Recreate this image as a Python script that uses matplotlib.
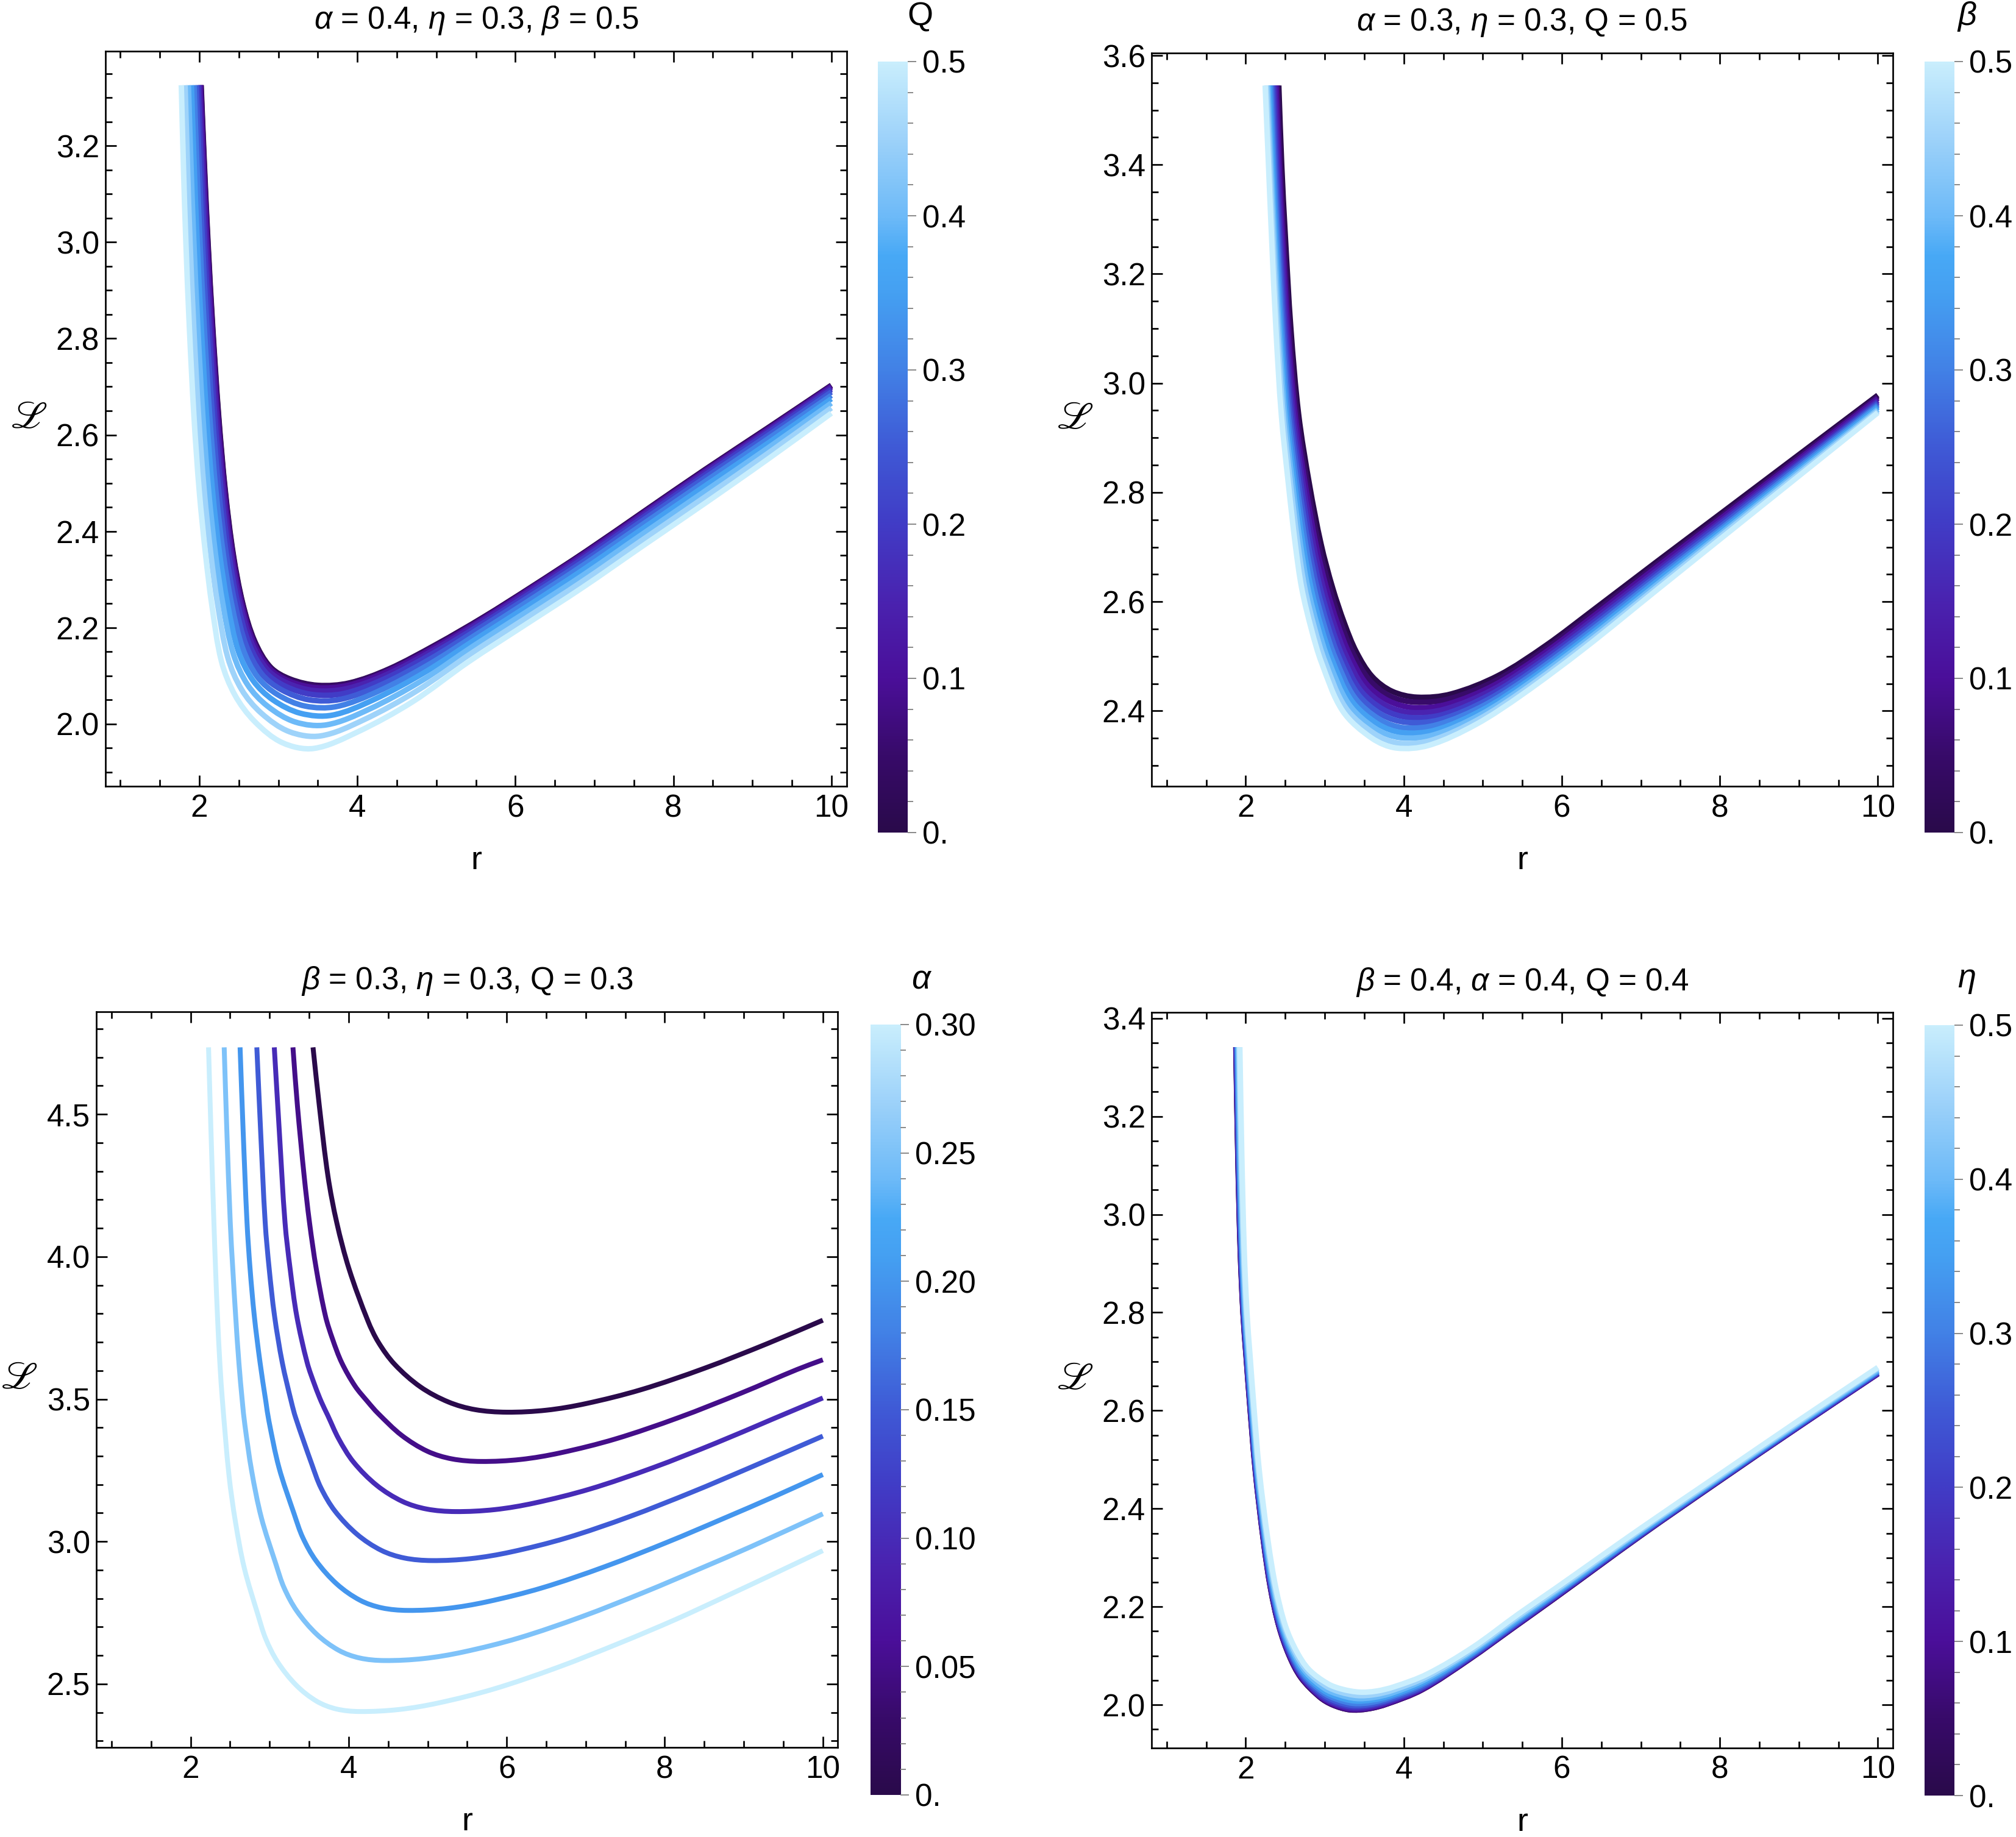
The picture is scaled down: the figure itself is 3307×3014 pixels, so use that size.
import numpy as np
import matplotlib
matplotlib.use("Agg")
import matplotlib.pyplot as plt
from matplotlib.colors import LinearSegmentedColormap
from matplotlib.ticker import FixedLocator, FixedFormatter, MultipleLocator, FuncFormatter
from matplotlib.path import Path
from matplotlib.patches import PathPatch

plt.rcParams['font.family'] = ['Liberation Sans', 'DejaVu Sans']
plt.rcParams['mathtext.fontset'] = 'custom'
plt.rcParams['mathtext.rm'] = 'Liberation Sans'
plt.rcParams['mathtext.it'] = 'Liberation Sans:italic'
plt.rcParams['mathtext.bf'] = 'Liberation Sans:bold'

# ---------------- data ----------------
# Panel 1: alpha=0.4, eta=0.3, beta=0.5 ; curves for Q
P1_Q = [0.0, 0.05, 0.1, 0.15, 0.2, 0.25, 0.3, 0.35, 0.4, 0.45, 0.5]
P1_R = [
    [2.023, 2.065, 2.110, 2.170, 2.245, 2.330, 2.430, 2.550, 2.700, 2.900, 3.150, 3.500, 3.900, 4.400, 5.000, 5.600, 6.200, 6.900, 7.600, 8.400, 9.200, 10.0],
    [2.020, 2.062, 2.107, 2.167, 2.242, 2.327, 2.426, 2.546, 2.696, 2.896, 3.146, 3.496, 3.896, 4.396, 4.997, 5.598, 6.199, 6.900, 7.600, 8.400, 9.200, 10.0],
    [2.013, 2.054, 2.099, 2.158, 2.232, 2.317, 2.416, 2.534, 2.683, 2.882, 3.132, 3.482, 3.882, 4.384, 4.988, 5.592, 6.196, 6.898, 7.600, 8.400, 9.200, 10.0],
    [2.000, 2.041, 2.085, 2.143, 2.217, 2.300, 2.398, 2.515, 2.662, 2.860, 3.110, 3.460, 3.860, 4.364, 4.973, 5.582, 6.191, 6.896, 7.600, 8.400, 9.200, 10.0],
    [1.983, 2.023, 2.065, 2.123, 2.195, 2.277, 2.374, 2.488, 2.633, 2.828, 3.078, 3.428, 3.828, 4.336, 4.952, 5.568, 6.184, 6.892, 7.600, 8.400, 9.200, 10.0],
    [1.960, 1.999, 2.040, 2.096, 2.167, 2.248, 2.342, 2.453, 2.595, 2.788, 3.038, 3.388, 3.788, 4.300, 4.925, 5.550, 6.175, 6.888, 7.600, 8.400, 9.200, 10.0],
    [1.933, 1.970, 2.009, 2.063, 2.132, 2.211, 2.304, 2.410, 2.549, 2.738, 2.988, 3.338, 3.738, 4.256, 4.892, 5.528, 6.164, 6.882, 7.600, 8.400, 9.200, 10.0],
    [1.900, 1.935, 1.973, 2.025, 2.092, 2.168, 2.258, 2.359, 2.494, 2.680, 2.930, 3.280, 3.680, 4.204, 4.853, 5.502, 6.151, 6.876, 7.600, 8.400, 9.200, 10.0],
    [1.862, 1.895, 1.931, 1.981, 2.045, 2.119, 2.205, 2.300, 2.431, 2.612, 2.862, 3.212, 3.612, 4.144, 4.808, 5.472, 6.136, 6.868, 7.600, 8.400, 9.200, 10.0],
    [1.820, 1.850, 1.883, 1.930, 1.991, 2.063, 2.146, 2.234, 2.360, 2.536, 2.786, 3.136, 3.536, 4.076, 4.757, 5.438, 6.119, 6.860, 7.600, 8.400, 9.200, 10.0],
    [1.772, 1.799, 1.830, 1.874, 1.932, 2.000, 2.079, 2.160, 2.280, 2.450, 2.700, 3.050, 3.450, 4.000, 4.700, 5.400, 6.100, 6.850, 7.600, 8.400, 9.200, 10.0],
]
P1_L = [
    [3.326, 3.158, 3.000, 2.823, 2.639, 2.482, 2.352, 2.250, 2.172, 2.118, 2.093, 2.080, 2.085, 2.114, 2.165, 2.222, 2.284, 2.359, 2.438, 2.528, 2.615, 2.703],
    [3.326, 3.158, 3.000, 2.823, 2.639, 2.482, 2.352, 2.250, 2.172, 2.117, 2.092, 2.079, 2.084, 2.113, 2.164, 2.221, 2.283, 2.358, 2.437, 2.527, 2.614, 2.702],
    [3.326, 3.158, 3.000, 2.823, 2.639, 2.482, 2.352, 2.250, 2.170, 2.116, 2.089, 2.075, 2.080, 2.109, 2.160, 2.218, 2.281, 2.356, 2.435, 2.525, 2.612, 2.701],
    [3.326, 3.158, 3.000, 2.823, 2.639, 2.482, 2.352, 2.250, 2.168, 2.113, 2.085, 2.069, 2.073, 2.102, 2.154, 2.214, 2.277, 2.352, 2.432, 2.522, 2.609, 2.698],
    [3.326, 3.158, 3.000, 2.823, 2.639, 2.482, 2.352, 2.249, 2.165, 2.109, 2.079, 2.061, 2.063, 2.093, 2.146, 2.207, 2.271, 2.347, 2.427, 2.517, 2.605, 2.694],
    [3.326, 3.158, 3.000, 2.823, 2.639, 2.482, 2.352, 2.249, 2.162, 2.104, 2.071, 2.050, 2.051, 2.081, 2.135, 2.199, 2.264, 2.340, 2.421, 2.511, 2.599, 2.689],
    [3.326, 3.158, 3.000, 2.823, 2.639, 2.482, 2.352, 2.248, 2.157, 2.097, 2.061, 2.037, 2.036, 2.067, 2.122, 2.188, 2.255, 2.332, 2.413, 2.503, 2.592, 2.682],
    [3.326, 3.158, 3.000, 2.823, 2.639, 2.482, 2.352, 2.248, 2.151, 2.090, 2.050, 2.022, 2.018, 2.050, 2.107, 2.176, 2.244, 2.322, 2.404, 2.494, 2.583, 2.675],
    [3.326, 3.158, 3.000, 2.823, 2.639, 2.482, 2.352, 2.247, 2.145, 2.081, 2.037, 2.004, 1.998, 2.030, 2.089, 2.162, 2.232, 2.310, 2.393, 2.483, 2.573, 2.666],
    [3.326, 3.158, 3.000, 2.823, 2.639, 2.482, 2.352, 2.246, 2.138, 2.071, 2.022, 1.984, 1.975, 2.008, 2.069, 2.146, 2.218, 2.297, 2.381, 2.471, 2.562, 2.656],
    [3.326, 3.158, 3.000, 2.823, 2.639, 2.482, 2.352, 2.245, 2.130, 2.060, 2.005, 1.961, 1.949, 1.983, 2.046, 2.128, 2.203, 2.283, 2.368, 2.458, 2.550, 2.645],
]

# Panel 2: alpha=0.3, eta=0.3, Q=0.5 ; curves for beta
P2_BETA = [0.0, 0.05, 0.1, 0.15, 0.2, 0.25, 0.3, 0.35, 0.4, 0.45, 0.5]
P2_R = [
    [2.418, 2.455, 2.500, 2.571, 2.669, 2.807, 2.954, 3.100, 3.250, 3.400, 3.600, 3.850, 4.170, 4.600, 5.200, 5.800, 6.400, 7.2, 8.0, 9.0, 10.0],
    [2.401, 2.438, 2.483, 2.552, 2.647, 2.780, 2.921, 3.061, 3.208, 3.356, 3.563, 3.825, 4.144, 4.572, 5.171, 5.770, 6.389, 7.2, 8.0, 9.0, 10.0],
    [2.384, 2.422, 2.465, 2.533, 2.625, 2.754, 2.889, 3.022, 3.166, 3.312, 3.525, 3.799, 4.117, 4.544, 5.142, 5.740, 6.378, 7.2, 8.0, 9.0, 10.0],
    [2.366, 2.405, 2.448, 2.514, 2.603, 2.727, 2.856, 2.982, 3.124, 3.268, 3.488, 3.774, 4.091, 4.516, 5.113, 5.710, 6.367, 7.2, 8.0, 9.0, 10.0],
    [2.349, 2.388, 2.430, 2.495, 2.581, 2.701, 2.823, 2.943, 3.082, 3.224, 3.450, 3.748, 4.064, 4.488, 5.084, 5.680, 6.356, 7.2, 8.0, 9.0, 10.0],
    [2.332, 2.372, 2.413, 2.477, 2.560, 2.674, 2.791, 2.904, 3.040, 3.180, 3.413, 3.723, 4.038, 4.460, 5.056, 5.650, 6.345, 7.2, 8.0, 9.0, 10.0],
    [2.315, 2.355, 2.396, 2.458, 2.538, 2.647, 2.758, 2.865, 2.998, 3.136, 3.376, 3.698, 4.012, 4.431, 5.027, 5.620, 6.334, 7.2, 8.0, 9.0, 10.0],
    [2.298, 2.338, 2.378, 2.439, 2.516, 2.621, 2.725, 2.826, 2.956, 3.092, 3.338, 3.672, 3.985, 4.403, 4.998, 5.590, 6.323, 7.2, 8.0, 9.0, 10.0],
    [2.280, 2.321, 2.361, 2.420, 2.494, 2.594, 2.692, 2.786, 2.914, 3.048, 3.301, 3.647, 3.959, 4.375, 4.969, 5.560, 6.312, 7.2, 8.0, 9.0, 10.0],
    [2.263, 2.305, 2.343, 2.401, 2.472, 2.568, 2.660, 2.747, 2.872, 3.004, 3.263, 3.621, 3.932, 4.347, 4.940, 5.530, 6.301, 7.2, 8.0, 9.0, 10.0],
    [2.246, 2.288, 2.326, 2.382, 2.450, 2.541, 2.627, 2.708, 2.830, 2.960, 3.226, 3.596, 3.906, 4.319, 4.911, 5.500, 6.290, 7.2, 8.0, 9.0, 10.0],
]
P2_L = [
    [3.545, 3.40, 3.271, 3.10, 2.943, 2.814, 2.705, 2.625, 2.560, 2.508, 2.463, 2.436, 2.425, 2.431, 2.465, 2.520, 2.585, 2.673, 2.760, 2.869, 2.978],
    [3.545, 3.40, 3.271, 3.10, 2.943, 2.814, 2.705, 2.625, 2.559, 2.506, 2.457, 2.427, 2.416, 2.422, 2.456, 2.511, 2.578, 2.668, 2.755, 2.865, 2.975],
    [3.545, 3.40, 3.271, 3.10, 2.943, 2.814, 2.705, 2.625, 2.558, 2.504, 2.450, 2.419, 2.406, 2.412, 2.447, 2.502, 2.571, 2.663, 2.751, 2.861, 2.972],
    [3.545, 3.40, 3.271, 3.10, 2.943, 2.814, 2.705, 2.625, 2.557, 2.502, 2.444, 2.410, 2.397, 2.403, 2.438, 2.493, 2.564, 2.657, 2.746, 2.857, 2.968],
    [3.545, 3.40, 3.271, 3.10, 2.943, 2.814, 2.705, 2.625, 2.556, 2.500, 2.438, 2.402, 2.388, 2.393, 2.429, 2.484, 2.557, 2.652, 2.742, 2.853, 2.965],
    [3.545, 3.40, 3.271, 3.10, 2.943, 2.814, 2.705, 2.625, 2.555, 2.498, 2.432, 2.393, 2.379, 2.384, 2.420, 2.475, 2.550, 2.647, 2.737, 2.850, 2.962],
    [3.545, 3.40, 3.271, 3.10, 2.943, 2.814, 2.705, 2.625, 2.554, 2.496, 2.425, 2.384, 2.369, 2.375, 2.411, 2.466, 2.543, 2.642, 2.732, 2.846, 2.959],
    [3.545, 3.40, 3.271, 3.10, 2.943, 2.814, 2.705, 2.625, 2.553, 2.494, 2.419, 2.376, 2.360, 2.365, 2.402, 2.457, 2.536, 2.637, 2.728, 2.842, 2.956],
    [3.545, 3.40, 3.271, 3.10, 2.943, 2.814, 2.705, 2.625, 2.552, 2.492, 2.413, 2.367, 2.351, 2.356, 2.393, 2.448, 2.529, 2.631, 2.723, 2.838, 2.952],
    [3.545, 3.40, 3.271, 3.10, 2.943, 2.814, 2.705, 2.625, 2.551, 2.490, 2.406, 2.359, 2.341, 2.346, 2.384, 2.439, 2.522, 2.626, 2.719, 2.834, 2.949],
    [3.545, 3.40, 3.271, 3.10, 2.943, 2.814, 2.705, 2.625, 2.550, 2.488, 2.400, 2.350, 2.332, 2.337, 2.375, 2.430, 2.515, 2.621, 2.714, 2.830, 2.946],
]

# Panel 3: beta=0.3, eta=0.3, Q=0.3 ; curves for alpha
P3_ALPHA = [0.0, 0.05, 0.1, 0.15, 0.2, 0.25, 0.3]
P3_R = [
    [3.549, 3.629, 3.738, 3.850, 4.006, 4.243, 4.375, 4.582, 4.907, 5.261, 5.600, 6.000, 6.500, 7.000, 7.700, 8.500, 9.300, 10.0],
    [3.295, 3.352, 3.437, 3.505, 3.591, 3.706, 3.797, 3.912, 4.080, 4.243, 4.371, 4.669, 4.995, 5.307, 5.675, 6.175, 6.675, 7.375, 8.175, 8.975, 9.675, 10.0],
    [3.059, 3.121, 3.195, 3.260, 3.343, 3.475, 3.575, 3.655, 3.735, 3.873, 4.061, 4.356, 4.678, 4.986, 5.350, 5.850, 6.350, 7.050, 7.850, 8.650, 9.350, 10.0],
    [2.838, 2.885, 2.944, 2.995, 3.062, 3.160, 3.275, 3.329, 3.534, 3.648, 3.826, 4.107, 4.412, 4.705, 5.050, 5.550, 6.050, 6.750, 7.550, 8.350, 9.050, 10.0],
    [2.626, 2.664, 2.714, 2.753, 2.806, 2.879, 2.953, 2.991, 3.118, 3.311, 3.419, 3.588, 3.853, 4.142, 4.419, 4.745, 5.245, 5.745, 6.445, 7.245, 8.045, 8.745, 9.395, 10.0],
    [2.425, 2.458, 2.502, 2.534, 2.570, 2.611, 2.655, 2.686, 2.773, 2.895, 3.080, 3.182, 3.344, 3.597, 3.874, 4.138, 4.450, 4.950, 5.450, 6.150, 6.950, 7.750, 8.450, 9.100, 10.0],
    [2.227, 2.257, 2.295, 2.316, 2.340, 2.370, 2.404, 2.486, 2.568, 2.681, 2.854, 2.950, 3.101, 3.338, 3.596, 3.843, 4.135, 4.635, 5.135, 5.835, 6.635, 7.435, 8.135, 8.785, 9.385, 10.0],
]
P3_L = [
    [4.735, 4.529, 4.283, 4.119, 3.956, 3.775, 3.700, 3.622, 3.543, 3.490, 3.463, 3.454, 3.461, 3.484, 3.533, 3.608, 3.695, 3.777],
    [4.735, 4.529, 4.283, 4.119, 3.956, 3.792, 3.710, 3.628, 3.546, 3.490, 3.450, 3.373, 3.317, 3.290, 3.281, 3.288, 3.311, 3.360, 3.435, 3.522, 3.604, 3.638],
    [4.735, 4.447, 4.119, 3.956, 3.792, 3.628, 3.546, 3.490, 3.443, 3.361, 3.279, 3.197, 3.141, 3.114, 3.105, 3.112, 3.135, 3.184, 3.259, 3.346, 3.428, 3.504],
    [4.735, 4.447, 4.119, 3.956, 3.792, 3.628, 3.490, 3.435, 3.271, 3.189, 3.107, 3.025, 2.969, 2.942, 2.933, 2.940, 2.963, 3.012, 3.087, 3.174, 3.256, 3.370],
    [4.735, 4.447, 4.119, 3.956, 3.792, 3.628, 3.490, 3.423, 3.260, 3.096, 3.014, 2.932, 2.850, 2.794, 2.767, 2.758, 2.765, 2.788, 2.837, 2.912, 2.999, 3.081, 3.159, 3.235],
    [4.735, 4.447, 4.119, 3.956, 3.792, 3.628, 3.490, 3.411, 3.247, 3.084, 2.920, 2.838, 2.756, 2.674, 2.618, 2.591, 2.582, 2.589, 2.612, 2.661, 2.736, 2.823, 2.905, 2.983, 3.097],
    [4.735, 4.447, 4.119, 3.956, 3.792, 3.628, 3.490, 3.232, 3.068, 2.905, 2.741, 2.659, 2.577, 2.495, 2.439, 2.412, 2.403, 2.410, 2.433, 2.482, 2.557, 2.644, 2.726, 2.809, 2.887, 2.968],
]

# Panel 4: beta=0.4, alpha=0.4, Q=0.4 ; curves for eta
P4_ETA = [0.0, 0.05, 0.1, 0.15, 0.2, 0.25, 0.3, 0.35, 0.4, 0.45, 0.5]
P4_R = [
    [1.875, 1.900, 1.930, 1.965, 2.005, 2.048, 2.122, 2.225, 2.313, 2.420, 2.550, 2.700, 2.935, 3.100, 3.319, 3.550, 3.790, 4.233, 4.822, 5.412, 5.907, 7.0, 8.0, 9.0, 10.0],
    [1.876, 1.901, 1.931, 1.966, 2.006, 2.049, 2.123, 2.226, 2.314, 2.421, 2.551, 2.701, 2.936, 3.101, 3.320, 3.551, 3.791, 4.234, 4.822, 5.412, 5.907, 7.0, 8.0, 9.0, 10.0],
    [1.877, 1.902, 1.932, 1.967, 2.007, 2.050, 2.124, 2.227, 2.316, 2.423, 2.554, 2.704, 2.939, 3.105, 3.324, 3.554, 3.794, 4.236, 4.824, 5.414, 5.907, 7.0, 8.0, 9.0, 10.0],
    [1.880, 1.905, 1.935, 1.970, 2.010, 2.053, 2.127, 2.230, 2.319, 2.427, 2.558, 2.709, 2.944, 3.111, 3.330, 3.559, 3.798, 4.239, 4.826, 5.415, 5.907, 7.0, 8.0, 9.0, 10.0],
    [1.883, 1.908, 1.938, 1.973, 2.013, 2.056, 2.130, 2.234, 2.324, 2.433, 2.564, 2.716, 2.952, 3.119, 3.338, 3.566, 3.804, 4.244, 4.830, 5.418, 5.907, 7.0, 8.0, 9.0, 10.0],
    [1.888, 1.913, 1.943, 1.978, 2.018, 2.061, 2.135, 2.240, 2.330, 2.440, 2.573, 2.725, 2.961, 3.130, 3.349, 3.575, 3.813, 4.250, 4.834, 5.422, 5.907, 7.0, 8.0, 9.0, 10.0],
    [1.893, 1.918, 1.948, 1.983, 2.023, 2.066, 2.140, 2.246, 2.338, 2.449, 2.582, 2.736, 2.973, 3.143, 3.362, 3.586, 3.822, 4.257, 4.839, 5.426, 5.907, 7.0, 8.0, 9.0, 10.0],
    [1.900, 1.925, 1.955, 1.990, 2.030, 2.073, 2.147, 2.253, 2.346, 2.459, 2.594, 2.749, 2.987, 3.159, 3.377, 3.599, 3.834, 4.266, 4.846, 5.431, 5.907, 7.0, 8.0, 9.0, 10.0],
    [1.907, 1.932, 1.962, 1.997, 2.037, 2.080, 2.154, 2.262, 2.357, 2.471, 2.608, 2.764, 3.002, 3.177, 3.395, 3.614, 3.848, 4.276, 4.853, 5.436, 5.907, 7.0, 8.0, 9.0, 10.0],
    [1.916, 1.941, 1.971, 2.006, 2.046, 2.089, 2.163, 2.272, 2.368, 2.485, 2.623, 2.781, 3.020, 3.197, 3.415, 3.631, 3.863, 4.287, 4.861, 5.443, 5.907, 7.0, 8.0, 9.0, 10.0],
    [1.925, 1.950, 1.980, 2.015, 2.055, 2.098, 2.172, 2.283, 2.381, 2.500, 2.640, 2.800, 3.040, 3.220, 3.437, 3.650, 3.880, 4.300, 4.870, 5.450, 5.907, 7.0, 8.0, 9.0, 10.0],
]
P4_L = [
    [3.341, 3.120, 2.930, 2.800, 2.710, 2.618, 2.476, 2.333, 2.238, 2.160, 2.100, 2.055, 2.016, 2.000, 1.990, 1.992, 2.002, 2.031, 2.092, 2.160, 2.217, 2.345, 2.457, 2.567, 2.675],
    [3.341, 3.120, 2.930, 2.800, 2.710, 2.618, 2.476, 2.333, 2.238, 2.160, 2.100, 2.055, 2.016, 2.000, 1.990, 1.992, 2.002, 2.031, 2.092, 2.160, 2.217, 2.345, 2.457, 2.567, 2.675],
    [3.341, 3.120, 2.930, 2.800, 2.710, 2.618, 2.476, 2.333, 2.238, 2.160, 2.100, 2.056, 2.017, 2.001, 1.991, 1.993, 2.003, 2.032, 2.093, 2.161, 2.218, 2.346, 2.458, 2.567, 2.675],
    [3.341, 3.120, 2.930, 2.800, 2.710, 2.618, 2.476, 2.333, 2.238, 2.160, 2.101, 2.057, 2.018, 2.003, 1.993, 1.995, 2.005, 2.034, 2.094, 2.162, 2.219, 2.346, 2.458, 2.568, 2.676],
    [3.341, 3.120, 2.930, 2.800, 2.710, 2.618, 2.476, 2.333, 2.238, 2.160, 2.102, 2.058, 2.020, 2.005, 1.996, 1.998, 2.008, 2.036, 2.096, 2.164, 2.220, 2.347, 2.459, 2.569, 2.677],
    [3.341, 3.120, 2.930, 2.800, 2.710, 2.618, 2.476, 2.333, 2.238, 2.161, 2.103, 2.059, 2.023, 2.008, 1.999, 2.001, 2.011, 2.039, 2.098, 2.166, 2.222, 2.349, 2.460, 2.570, 2.678],
    [3.341, 3.120, 2.930, 2.800, 2.710, 2.618, 2.476, 2.333, 2.238, 2.161, 2.104, 2.061, 2.026, 2.012, 2.003, 2.005, 2.015, 2.043, 2.101, 2.169, 2.224, 2.350, 2.462, 2.572, 2.680],
    [3.341, 3.120, 2.930, 2.800, 2.710, 2.618, 2.476, 2.333, 2.238, 2.161, 2.105, 2.063, 2.029, 2.016, 2.008, 2.010, 2.019, 2.047, 2.104, 2.172, 2.226, 2.352, 2.463, 2.573, 2.681],
    [3.341, 3.120, 2.930, 2.800, 2.710, 2.618, 2.476, 2.333, 2.238, 2.161, 2.106, 2.066, 2.033, 2.021, 2.013, 2.015, 2.024, 2.052, 2.108, 2.176, 2.229, 2.355, 2.465, 2.575, 2.683],
    [3.341, 3.120, 2.930, 2.800, 2.710, 2.618, 2.476, 2.333, 2.238, 2.162, 2.108, 2.069, 2.038, 2.026, 2.019, 2.021, 2.030, 2.057, 2.112, 2.180, 2.232, 2.357, 2.467, 2.577, 2.686],
    [3.341, 3.120, 2.930, 2.800, 2.710, 2.618, 2.476, 2.333, 2.238, 2.162, 2.110, 2.072, 2.043, 2.032, 2.026, 2.028, 2.037, 2.063, 2.117, 2.185, 2.236, 2.360, 2.470, 2.580, 2.688],
]

TITLES = [r'$\alpha$ = 0.4, $\eta$ = 0.3, $\beta$ = 0.5',
          r'$\alpha$ = 0.3, $\eta$ = 0.3, Q = 0.5',
          r'$\beta$ = 0.3, $\eta$ = 0.3, Q = 0.3',
          r'$\beta$ = 0.4, $\alpha$ = 0.4, Q = 0.4']
CB_LABELS = ['Q', r'$\beta$', r'$\alpha$', r'$\eta$']
CB_MAJOR_A = [0.0, 0.1, 0.2, 0.3, 0.4, 0.5]
CB_MAJOR_A_LAB = ['0.', '0.1', '0.2', '0.3', '0.4', '0.5']
CB_MINOR_A = [0.02, 0.04, 0.06, 0.08, 0.12, 0.14, 0.16, 0.18, 0.22, 0.24, 0.26, 0.28,
              0.32, 0.34, 0.36, 0.38, 0.42, 0.44, 0.46, 0.48]
CB_MAJOR_B = [0.0, 0.05, 0.1, 0.15, 0.2, 0.25, 0.3]
CB_MAJOR_B_LAB = ['0.', '0.05', '0.10', '0.15', '0.20', '0.25', '0.30']
CB_MINOR_B = [0.01, 0.02, 0.03, 0.04, 0.06, 0.07, 0.08, 0.09, 0.11, 0.12, 0.13, 0.14,
              0.16, 0.17, 0.18, 0.19, 0.21, 0.22, 0.23, 0.24, 0.26, 0.27, 0.28, 0.29]
X_MAJOR = [2, 4, 6, 8, 10]

# ---------------- style ----------------
W, H, DPI = 3307, 3014, 300
def pt(px):
    return px * 72.0 / DPI

cmap = LinearSegmentedColormap.from_list('deepsea', [
    (0.00, '#2a0a4b'), (0.10, '#380b6a'), (0.20, '#4b0f9a'), (0.30, '#4a23b0'),
    (0.40, '#413cc6'), (0.50, '#3f5ad6'), (0.60, '#4281e6'), (0.70, '#45a0f2'),
    (0.75, '#48a9f6'), (0.80, '#6dbaf8'), (0.90, '#9dd2fa'), (1.00, '#c9eefd')])

fig = plt.figure(figsize=(W / DPI, H / DPI), dpi=DPI)
fig.patch.set_facecolor('white')

def frect(l, t, r, b):
    return [l / W, 1 - b / H, (r - l) / W, (b - t) / H]

FS = 12.3

def smooth_curve(x, y, sx, sy):
    """Smooth (cubic Bezier) rendering through the read points, in data coords."""
    P = np.column_stack([np.asarray(x, float) * sx, np.asarray(y, float) * sy])
    n = len(P)
    d = np.linalg.norm(np.diff(P, axis=0), axis=1)
    T = np.zeros_like(P)
    T[0] = (P[1] - P[0]) / d[0]
    T[-1] = (P[-1] - P[-2]) / d[-1]
    for i in range(1, n - 1):
        T[i] = (P[i + 1] - P[i - 1]) / (d[i - 1] + d[i])
    verts = [P[0]]
    codes = [Path.MOVETO]
    for i in range(n - 1):
        verts += [P[i] + T[i] * d[i] / 3.0, P[i + 1] - T[i + 1] * d[i] / 3.0, P[i + 1]]
        codes += [Path.CURVE4] * 3
    V = np.array(verts)
    V[:, 0] /= sx
    V[:, 1] /= sy
    return Path(V, codes)

def make_panel(box, xlim, ylim, ymaj, ymin, R, L, params, vmax, cbbox,
               cbmaj, cbmajlab, cbmin, title, cblabel, cblab_dx, ylab_x, lw_px):
    l, t, r, b = box
    ax = fig.add_axes(frect(l, t, r, b))
    ax.set_xlim(*xlim)
    ax.set_ylim(*ylim)
    sx = (r - l) / (xlim[1] - xlim[0])
    sy = (b - t) / (ylim[1] - ylim[0])
    for p, rr, ll in zip(params, R, L):
        path = smooth_curve(rr, ll, sx, sy)
        ax.add_patch(PathPatch(path, facecolor='none', edgecolor=cmap(p / vmax),
                               lw=pt(lw_px), capstyle='butt', joinstyle='round', zorder=2))
    ax.xaxis.set_major_locator(FixedLocator(X_MAJOR))
    ax.xaxis.set_minor_locator(MultipleLocator(0.5))
    ax.yaxis.set_major_locator(MultipleLocator(ymaj))
    ax.yaxis.set_minor_locator(MultipleLocator(ymin))
    ax.xaxis.set_major_formatter(FuncFormatter(lambda v, pos: f'{v:.0f}'))
    ax.yaxis.set_major_formatter(FuncFormatter(lambda v, pos: f'{v:.1f}'))
    ax.tick_params(which='both', direction='in', top=True, right=True,
                   width=pt(2.7), color='black', labelsize=FS)
    ax.tick_params(which='major', length=pt(18))
    ax.tick_params(which='minor', length=pt(11))
    ax.tick_params(axis='y', which='major', pad=pt(10))
    ax.tick_params(axis='x', which='major', pad=pt(12))
    for s in ax.spines.values():
        s.set_linewidth(pt(2.7))
    cx = (l + r) / 2.0
    fig.text(cx / W, 1 - (t - 50) / H, title, ha='center', va='center', fontsize=FS)
    fig.text(cx / W, 1 - (b + 122) / H, 'r', ha='center', va='center', fontsize=13)
    fig.text(ylab_x / W, 1 - ((t + b) / 2.0) / H, '\u2112', ha='center', va='center',
             fontsize=15, family=['STIXGeneral', 'DejaVu Sans'])
    # colour legend
    cl, ct, cr, cb = cbbox
    cax = fig.add_axes(frect(cl, ct, cr, cb))
    grad = np.linspace(0, 1, 512).reshape(-1, 1)
    cax.imshow(grad, aspect='auto', cmap=cmap, origin='lower',
               extent=[0, 1, 0, vmax], interpolation='bilinear')
    cax.set_xlim(0, 1)
    cax.set_ylim(0, vmax)
    cax.set_xticks([])
    for s in cax.spines.values():
        s.set_visible(False)
    cax.yaxis.tick_right()
    cax.yaxis.set_major_locator(FixedLocator(cbmaj))
    cax.yaxis.set_major_formatter(FixedFormatter(cbmajlab))
    cax.yaxis.set_minor_locator(FixedLocator(cbmin))
    cax.tick_params(axis='y', which='both', direction='out', color='#8c8c8c',
                    width=pt(2.0), labelsize=FS, right=True, left=False)
    cax.tick_params(axis='y', which='major', length=pt(14), pad=pt(10))
    cax.tick_params(axis='y', which='minor', length=pt(9))
    fig.text((cl + cblab_dx) / W, 1 - (ct - 74) / H, cblabel, ha='center', va='center',
             fontsize=13)
    return ax

make_panel((173, 84, 1389, 1290), (0.812, 10.195), (1.8705, 3.3966), 0.2, 0.05,
           P1_R, P1_L, P1_Q, 0.5, (1440, 101, 1489, 1366),
           CB_MAJOR_A, CB_MAJOR_A_LAB, CB_MINOR_A, TITLES[0], CB_LABELS[0], 69, 47, 9)
make_panel((1889, 87, 3105, 1290), (0.808, 10.19), (2.262, 3.6045), 0.2, 0.05,
           P2_R, P2_L, P2_BETA, 0.5, (3157, 101, 3206, 1366),
           CB_MAJOR_A, CB_MAJOR_A_LAB, CB_MINOR_A, TITLES[1], CB_LABELS[1], 69, 1763, 9)
make_panel((158, 1660, 1374, 2867), (0.807, 10.187), (2.277, 4.86), 0.5, 0.1,
           P3_R, P3_L, P3_ALPHA, 0.3, (1428, 1681, 1477, 2945),
           CB_MAJOR_B, CB_MAJOR_B_LAB, CB_MINOR_B, TITLES[2], CB_LABELS[2], 84, 32, 8)
make_panel((1889, 1661, 3105, 2868), (0.808, 10.19), (1.912, 3.412), 0.2, 0.05,
           P4_R, P4_L, P4_ETA, 0.5, (3157, 1682, 3206, 2946),
           CB_MAJOR_A, CB_MAJOR_A_LAB, CB_MINOR_A, TITLES[3], CB_LABELS[3], 69, 1763, 9)

fig.savefig('out.png', dpi=DPI, facecolor='white')
